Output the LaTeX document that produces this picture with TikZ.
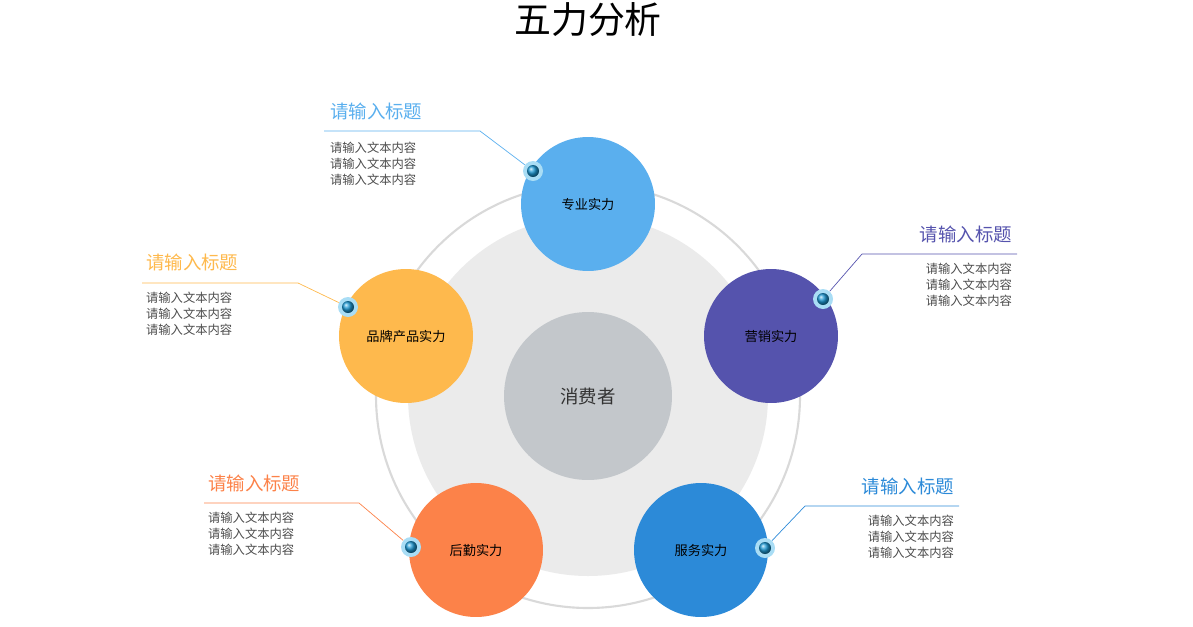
\documentclass[tikz,border=0pt]{standalone}
\usepackage{fontspec}
\newfontfamily\cjk{Noto Sans CJK SC}
\usetikzlibrary{positioning}
\definecolor{cBlue}{HTML}{5AAFEE}
\definecolor{cPurple}{HTML}{5553AD}
\definecolor{cDeep}{HTML}{2C8AD8}
\definecolor{cOrange}{HTML}{FC8249}
\definecolor{cYellow}{HTML}{FEB94D}
\definecolor{cRing}{HTML}{D9D9D9}
\definecolor{cDisc}{HTML}{EBEBEB}
\definecolor{cCore}{HTML}{C3C7CB}
\definecolor{cDotOut}{HTML}{A9DDF5}
\definecolor{cDotIn}{HTML}{1E9BD7}
\begin{document}
\begin{tikzpicture}[
    x=0.02cm, y=-0.02cm,
    sat/.style={circle, minimum size=2.68cm, inner sep=0pt, font=\cjk\fontsize{7.5}{9}\selectfont},
    bead/.style={circle, minimum size=0.4cm, inner sep=0pt, fill=cDotOut},
    head/.style={font=\cjk\fontsize{10.5}{12}\selectfont, inner sep=1pt},
    body/.style={font=\cjk\fontsize{7}{9}\selectfont, text=black!70, inner sep=1pt},
  ]
\useasboundingbox (0,0) rectangle (1193,626);

\node[font=\cjk\fontsize{21}{24}\selectfont] (title) at (588,20) {五力分析};

% rings
\draw[cRing, line width=1.2pt] (588,396) circle (212);
\fill[cDisc] (588,396) circle (180);
\node[circle, fill=cCore, minimum size=3.36cm, font=\cjk\fontsize{10.5}{12}\selectfont, text=black!80] (core) at (588,396) {消费者};

% forces
\node[sat, fill=cBlue] (pro) at (588,204) {专业实力};
\node[sat, fill=cPurple] (mkt) at (771,336) {营销实力};
\node[sat, fill=cDeep] (svc) at (701,550) {服务实力};
\node[sat, fill=cOrange] (log) at (476,550) {后勤实力};
\node[sat, fill=cYellow] (brd) at (406,336) {品牌产品实力};

% beads
\foreach \n/\p in {b1/{(533,171)}, b2/{(823,299)}, b3/{(765,548)}, b4/{(411,547)}, b5/{(348,307)}}{
  \node[bead] (\n) at \p {};
  \shade[ball color=cDotIn] (\n) circle (6);
}

% leaders
\coordinate (k1) at (480,131); \coordinate (e1) at (324,131);
\coordinate (k2) at (862,254); \coordinate (e2) at (1017,254);
\coordinate (k3) at (805,506); \coordinate (e3) at (959,506);
\coordinate (k4) at (359,503); \coordinate (e4) at (204,503);
\coordinate (k5) at (298,283); \coordinate (e5) at (142,283);
\draw[cBlue] (b1) -- (k1) -- (e1);
\draw[cPurple] (b2) -- (k2) -- (e2);
\draw[cDeep] (b3) -- (k3) -- (e3);
\draw[cOrange] (b4) -- (k4) -- (e4);
\draw[cYellow] (b5) -- (k5) -- (e5);

% labels
\node[head, text=cBlue, anchor=west] (h1) at (328,111) {请输入标题};
\node[body, anchor=north west, align=left] (t1) at (328,140) {请输入文本内容\\请输入文本内容\\请输入文本内容};
\node[head, text=cPurple, anchor=east] (h2) at (1014,234) {请输入标题};
\node[body, anchor=north east, align=right] (t2) at (1014,261) {请输入文本内容\\请输入文本内容\\请输入文本内容};
\node[head, text=cDeep, anchor=east] (h3) at (956,486) {请输入标题};
\node[body, anchor=north east, align=right] (t3) at (956,513) {请输入文本内容\\请输入文本内容\\请输入文本内容};
\node[head, text=cOrange, anchor=west] (h4) at (206,483) {请输入标题};
\node[body, anchor=north west, align=left] (t4) at (206,510) {请输入文本内容\\请输入文本内容\\请输入文本内容};
\node[head, text=cYellow, anchor=west] (h5) at (144,262) {请输入标题};
\node[body, anchor=north west, align=left] (t5) at (144,290) {请输入文本内容\\请输入文本内容\\请输入文本内容};
\end{tikzpicture}
\end{document}
